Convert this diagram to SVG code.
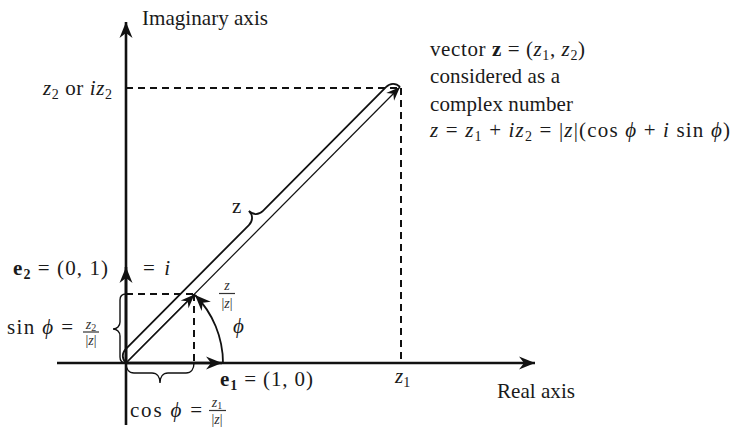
<svg xmlns="http://www.w3.org/2000/svg" width="733" height="427" viewBox="0 0 733 427">
<style>
text{font-family:"Liberation Serif","Times New Roman",serif;font-size:21px;fill:#1a1a1a}
.it{font-style:italic}
.bf{font-weight:bold}
.phi{font-family:"Liberation Serif","DejaVu Serif",serif;font-style:italic;font-weight:normal}
.sm{font-size:14px;fill:#333}
.axis{stroke:#111;stroke-width:2.6;fill:none}
.thin{stroke:#111;stroke-width:1.2;fill:none}
.thick{stroke:#111;stroke-width:1.8;fill:none}
.dash{stroke:#111;stroke-width:2;stroke-dasharray:7 5;fill:none}
.bar{stroke:#333;stroke-width:1.2}
</style>
<defs>
<marker id="ah" viewBox="-17 -8 18 16" refX="0" refY="0" markerWidth="18" markerHeight="16" markerUnits="userSpaceOnUse" orient="auto"><path d="M0,0 L-16,-6.5 L-11,0 L-16,6.5 Z" fill="#111"/></marker>
<marker id="ahs" viewBox="-15 -7 16 14" refX="0" refY="0" markerWidth="16" markerHeight="14" markerUnits="userSpaceOnUse" orient="auto"><path d="M0,0 L-14,-5.5 L-9.5,0 L-14,5.5 Z" fill="#111"/></marker>
</defs>

<g id="guides">
<path class="dash" d="M126,88 H400 M401,88 V363"/>
<path class="dash" d="M126,294 H194 M194,294 V363"/>
</g>

<g id="axes">
<path class="axis" d="M126,425 V22" marker-end="url(#ah)"/>
<path class="axis" d="M57,363 H535" marker-end="url(#ah)"/>
</g>

<g id="connectors">
<path id="e2-arrow" class="axis" d="M126,363 V267" marker-end="url(#ah)"/>
<path id="e1-arrow" class="axis" d="M126,363 H222" marker-end="url(#ah)"/>
<path id="vector-z" class="thin" d="M126,363 L400,87" marker-end="url(#ahs)"/>
<path id="unit-vector" class="thin" d="M126,363 L194.5,294.5" marker-end="url(#ahs)"/>
<path id="angle-arc" class="thick" d="M223,363 A97,97 0 0 0 195,295" marker-end="url(#ah)"/>
</g>

<g id="braces">
<path id="brace-z" class="thick" transform="translate(126,363) rotate(-45.2)" d="M0,0 C0,-6 4,-10 10,-10 L184.5,-10 C190.5,-10 194.5,-14 194.5,-20 C194.5,-14 198.5,-10 204.5,-10 L379,-10 C385,-10 389,-6 389,0"/>
<path id="brace-sin" class="thin" style="stroke-width:1.4" d="M126,294 C122,294 120,296 120,300 L120,322 C120,326 117,329 113,329 C117,329 120,332 120,336 L120,357 C120,361 122,363 126,363"/>
<path id="brace-cos" class="thin" style="stroke-width:1.4" d="M126,363 C126,369 129,373 134,373 L152,373 C157,373 160,377 160,383 C160,377 163,373 168,373 L186,373 C191,373 194,369 194,363"/>
</g>

<g id="label-imag"><text x="142" y="25" textLength="126" lengthAdjust="spacingAndGlyphs">Imaginary axis</text></g>
<g id="label-real"><text x="497" y="398" textLength="78" lengthAdjust="spacingAndGlyphs">Real axis</text></g>
<g id="label-z2"><text x="43" y="95" textLength="69"><tspan class="it">z</tspan><tspan font-size="14" dy="4">2</tspan><tspan dy="-4"> or </tspan><tspan class="it">iz</tspan><tspan font-size="14" dy="4">2</tspan></text></g>
<g id="label-z1"><text x="395" y="383"><tspan class="it">z</tspan><tspan font-size="14" dy="4">1</tspan></text></g>

<g id="label-desc">
<text x="430" y="56" textLength="155"><tspan>vector </tspan><tspan class="bf">z</tspan><tspan> = (</tspan><tspan class="it">z</tspan><tspan font-size="14" dy="4">1</tspan><tspan dy="-4">, </tspan><tspan class="it">z</tspan><tspan font-size="14" dy="4">2</tspan><tspan dy="-4">)</tspan></text>
<text x="430" y="83" textLength="130">considered as a</text>
<text x="430" y="111" textLength="143">complex number</text>
<text x="430" y="137" textLength="300"><tspan class="it">z</tspan><tspan> = </tspan><tspan class="it">z</tspan><tspan font-size="14" dy="4">1</tspan><tspan dy="-4"> + </tspan><tspan class="it">iz</tspan><tspan font-size="14" dy="4">2</tspan><tspan dy="-4"> = |</tspan><tspan class="it">z</tspan><tspan>|(cos </tspan><tspan class="phi">ϕ</tspan><tspan> + </tspan><tspan class="it">i</tspan><tspan> sin </tspan><tspan class="phi">ϕ</tspan><tspan>)</tspan></text>
</g>

<g id="label-zbrace"><text x="232" y="213">z</text></g>

<g id="label-e2">
<text x="13" y="275" textLength="95"><tspan class="bf">e</tspan><tspan class="bf" font-size="14" dy="4">2</tspan><tspan dy="-4"> = (0, 1)</tspan></text>
<text x="143" y="275" textLength="27">= <tspan class="it">i</tspan></text>
</g>

<g id="label-e1"><text x="220" y="386" textLength="93"><tspan class="bf">e</tspan><tspan class="bf" font-size="14" dy="4">1</tspan><tspan dy="-4"> = (1, 0)</tspan></text></g>

<g id="label-unit">
<text class="sm it" x="227" y="290" text-anchor="middle">z</text>
<line class="bar" x1="219" y1="293.5" x2="235" y2="293.5"/>
<text class="sm" x="227" y="308" text-anchor="middle">|<tspan class="it">z</tspan>|</text>
</g>

<g id="label-phi"><text class="phi" x="233" y="333">ϕ</text></g>

<g id="label-sin">
<text x="7" y="334" textLength="66">sin <tspan class="phi">ϕ</tspan> =</text>
<text class="sm" x="91" y="329" text-anchor="middle"><tspan class="it">z</tspan><tspan font-size="10" dy="2">2</tspan></text>
<line class="bar" x1="83" y1="332" x2="99" y2="332"/>
<text class="sm" x="91" y="345" text-anchor="middle">|<tspan class="it">z</tspan>|</text>
</g>

<g id="label-cos">
<text x="130" y="417" textLength="72">cos <tspan class="phi">ϕ</tspan> =</text>
<text class="sm" x="217" y="407" text-anchor="middle"><tspan class="it">z</tspan><tspan font-size="10" dy="2">1</tspan></text>
<line class="bar" x1="209" y1="410.5" x2="226" y2="410.5"/>
<text class="sm" x="217" y="424" text-anchor="middle">|<tspan class="it">z</tspan>|</text>
</g>
</svg>
